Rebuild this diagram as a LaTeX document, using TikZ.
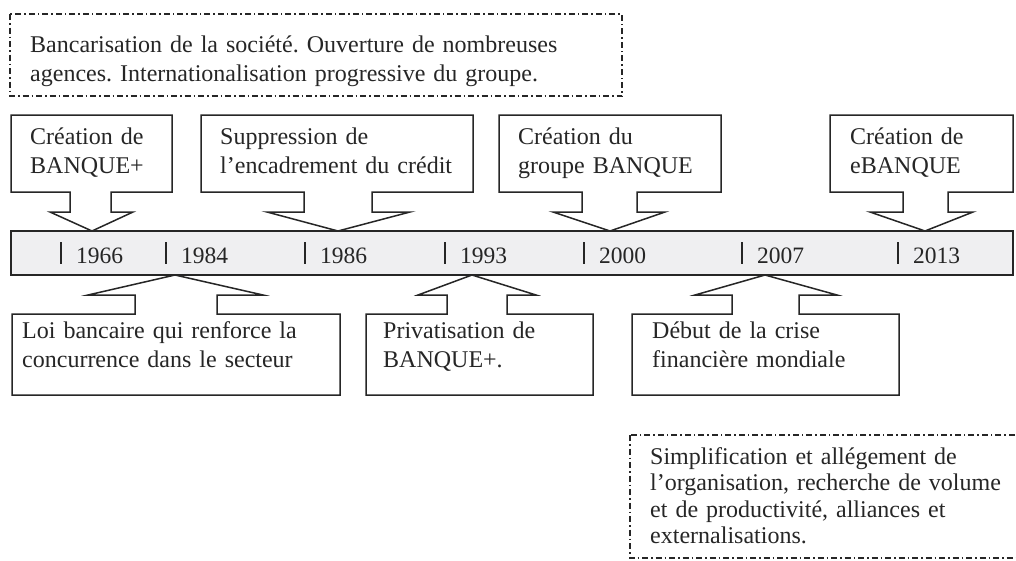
\documentclass[tikz,border=0pt]{standalone}
\usepackage{fontspec}
\setmainfont{Liberation Serif}
\frenchspacing
\definecolor{ink}{HTML}{262626}
\definecolor{barfill}{HTML}{EFEFF1}
\newcommand{\calldown}[7]{\draw[shp,fill=white] (#1,115) -- (#2,115) -- (#2,192) -- (#4,192) -- (#4,212) -- (#6,212) -- (#7,231) -- (#5,212) -- (#3,212) -- (#3,192) -- (#1,192) -- cycle;}
\newcommand{\callup}[7]{\draw[shp,fill=white] (#1,395) -- (#2,395) -- (#2,314) -- (#4,314) -- (#4,295) -- (#6,295) -- (#7,275) -- (#5,295) -- (#3,295) -- (#3,314) -- (#1,314) -- cycle;}
\begin{document}
\begin{tikzpicture}[x=1pt,y=-1pt,
  shp/.style={draw=ink,line width=1.5pt,line join=miter},
  dd/.style={draw=ink,line width=1.4pt,dash pattern=on 6pt off 3pt on 1.5pt off 3pt},
  txt/.style={anchor=base west,inner sep=0pt,text=ink,font=\fontsize{24}{29}\selectfont,text width=#1,align=left},
  txtb/.style={anchor=base west,inner sep=0pt,text=ink,font=\fontsize{24}{26.5}\selectfont,text width=#1,align=left},
  yr/.style={anchor=base west,inner sep=0pt,text=ink,font=\fontsize{23.5}{28}\selectfont},
  tk/.style={draw=ink,line width=1.2pt}]
\useasboundingbox (0,0) rectangle (1016,560);
% top dashed box
\draw[dd] (10,14) rectangle (622,96);
\node[txt=600pt] (t0) at (30,52) {Bancarisation de la société. Ouverture de nombreuses\\agences. Internationalisation progressive du groupe.};
% bar
\draw[shp,fill=barfill] (11,231) rectangle (1013,275);
\foreach \x/\yy in {61/1966,166/1984,305/1986,445/1993,584/2000,742/2007,898/2013}{
  \draw[tk] (\x,242) -- (\x,264);
  \node[yr] (y\yy) at (\x+15,263) {\yy};
}
% top callouts
\calldown{11}{172}{70}{111}{50}{133}{92}
\calldown{201}{473}{304}{372}{267}{410}{338}
\calldown{499}{721}{582}{637}{553}{665}{610}
\calldown{830}{1013}{903}{948}{870}{973}{925}
\node[txt=150pt] (t1) at (30,144) {Création de\\BANQUE+};
\node[txt=240pt] (t2) at (220,144) {Suppression de\\l’encadrement du crédit};
\node[txt=200pt] (t3) at (518,144) {Création du\\groupe BANQUE};
\node[txt=160pt] (t4) at (850,144) {Création de\\eBANQUE};
% bottom callouts
\callup{12}{340}{135}{217}{88}{263}{175}
\callup{366}{593}{447}{507}{418}{536}{472}
\callup{632}{899}{732}{799}{695}{837}{765}
\node[txt=320pt] (b1) at (22,338) {Loi bancaire qui renforce la\\concurrence dans le secteur};
\node[txt=200pt] (b2) at (383,338) {Privatisation de\\BANQUE+.};
\node[txt=240pt] (b3) at (652,338) {Début de la crise\\financière mondiale};
% bottom dashed box
\draw[dd] (630,435) rectangle (1030,558);
\node[txtb=370pt] (t5) at (650,464) {Simplification et allégement de\\l’organisation, recherche de volume\\et de productivité, alliances et\\externalisations.};
\end{tikzpicture}
\end{document}
